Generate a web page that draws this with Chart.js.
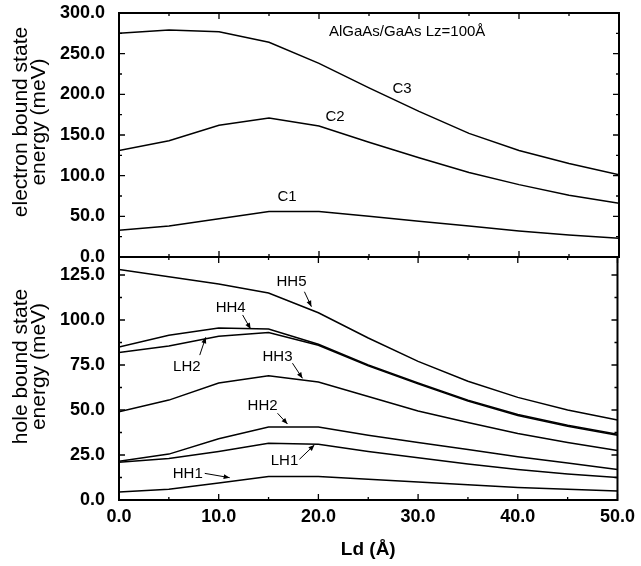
<!DOCTYPE html>
<html>
<head>
<meta charset="utf-8">
<script src="https://cdn.jsdelivr.net/npm/chart.js@4.4.1/dist/chart.umd.min.js"></script>
<style>
  html, body { margin: 0; padding: 0; background: #fff; }
  #wrap { position: relative; width: 641px; height: 566px; overflow: hidden; }
  #wrap canvas { position: absolute; left: 0; }
  #topChart { top: 0; }
  #bottomChart { top: 245px; }
</style>
</head>
<body>
<div id="wrap">
  <canvas id="topChart" width="641" height="290"></canvas>
  <canvas id="bottomChart" width="641" height="321"></canvas>
</div>
<script>
// Ld (Å) sample points
const ld = [0, 5, 10, 15, 20, 25, 30, 35, 40, 45, 50];

// electron bound states (meV)
const c1 = [33, 38, 47, 56, 56, 50, 44, 38, 32, 27, 23];
const c2 = [131, 143, 162, 171, 161, 141, 122, 104, 89, 76, 66];
const c3 = [275, 279, 277, 264, 238, 208, 179, 152, 131, 115, 101];

// hole bound states (meV)
const hh1 = [4.5, 6, 9.5, 13, 13, 11.5, 10, 8.5, 7, 6, 5];
const lh1 = [21, 23, 27, 31.5, 31, 27, 23.5, 20, 17, 14.5, 12.5];
const hh2 = [21.5, 25.5, 34, 40.5, 40.5, 36, 32, 28, 24, 20.5, 17];
const hh3 = [49, 55.5, 65, 69, 65.5, 57.5, 49.5, 43, 37, 32, 27.5];
const lh2 = [82, 85.5, 91, 93, 86, 74.5, 64.5, 55, 47, 41, 36];
const hh4 = [85, 91.5, 95.5, 95, 86.5, 75, 65, 55.5, 47.5, 41.5, 36.5];
const hh5 = [128, 124, 120, 115, 104, 90, 77, 66, 57, 50, 44.5];

// tick values
const xTicks = [0, 10, 20, 30, 40, 50];
const xMinor = [5, 15, 25, 35, 45];
const topYTicks = [0, 50, 100, 150, 200, 250, 300];
const topYMinor = [25, 75, 125, 175, 225, 275];
const botYTicks = [0, 25, 50, 75, 100, 125];
const botYMinor = [12.5, 37.5, 62.5, 87.5, 112.5];

const SANS = "'Liberation Sans', Arial, sans-serif";
const tickFont = { family: SANS, size: 18, weight: 'bold' };

function series(values) {
  return {
    data: ld.map((x, i) => ({ x: x, y: values[i] })),
    borderColor: '#000',
    borderWidth: 1.5,
    pointRadius: 0,
    tension: 0,
    fill: false,
  };
}

// frame, inward ticks, curve labels and y title
const panelDecor = {
  id: 'panelDecor',
  afterDatasetsDraw(chart, args, opts) {
    const { ctx, chartArea: a } = chart;
    const xs = chart.scales.x, ys = chart.scales.y;
    ctx.save();
    ctx.strokeStyle = '#000';
    ctx.fillStyle = '#000';

    // ticks on all four sides, pointing inward
    ctx.lineWidth = 1.3;
    ctx.beginPath();
    const xt = (v, len) => {
      const p = xs.getPixelForValue(v);
      ctx.moveTo(p, a.bottom); ctx.lineTo(p, a.bottom - len);
      ctx.moveTo(p, a.top); ctx.lineTo(p, a.top + len);
    };
    const yt = (v, len) => {
      const p = ys.getPixelForValue(v);
      ctx.moveTo(a.left, p); ctx.lineTo(a.left + len, p);
      ctx.moveTo(a.right, p); ctx.lineTo(a.right - len, p);
    };
    xTicks.forEach(v => xt(v, 6));
    xMinor.forEach(v => xt(v, 3));
    opts.yMajor.forEach(v => yt(v, 6));
    opts.yMinor.forEach(v => yt(v, 3));
    ctx.stroke();

    ctx.lineWidth = 2;
    ctx.strokeRect(a.left, a.top, a.right - a.left, a.bottom - a.top);

    // curve labels with arrows
    ctx.font = '15px ' + SANS;
    ctx.textBaseline = 'middle';
    opts.labels.forEach(l => {
      ctx.textAlign = l.align || 'center';
      ctx.fillText(l.text, xs.getPixelForValue(l.x), ys.getPixelForValue(l.y));
      if (l.arrow) {
        const [x0, y0, x1, y1] = l.arrow;
        const px0 = xs.getPixelForValue(x0), py0 = ys.getPixelForValue(y0);
        const px1 = xs.getPixelForValue(x1), py1 = ys.getPixelForValue(y1);
        ctx.lineWidth = 1;
        ctx.beginPath();
        ctx.moveTo(px0, py0); ctx.lineTo(px1, py1);
        ctx.stroke();
        const ang = Math.atan2(py1 - py0, px1 - px0);
        ctx.beginPath();
        ctx.moveTo(px1, py1);
        ctx.lineTo(px1 - 6 * Math.cos(ang) + 2.5 * Math.sin(ang), py1 - 6 * Math.sin(ang) - 2.5 * Math.cos(ang));
        ctx.lineTo(px1 - 6 * Math.cos(ang) - 2.5 * Math.sin(ang), py1 - 6 * Math.sin(ang) + 2.5 * Math.cos(ang));
        ctx.closePath();
        ctx.fill();
      }
    });

    // two-line y title, rotated
    ctx.font = '21px ' + SANS;
    ctx.textAlign = 'center';
    ctx.textBaseline = 'alphabetic';
    const cy = (a.top + a.bottom) / 2 + opts.titleShift;
    opts.title.forEach((line, i) => {
      ctx.save();
      ctx.translate(27 + i * 18, cy);
      ctx.rotate(-Math.PI / 2);
      ctx.fillText(line, 0, 0);
      ctx.restore();
    });
    ctx.restore();
  }
};

function yScale(max, ticks) {
  return {
    min: 0,
    max: max,
    afterBuildTicks: s => { s.ticks = ticks.map(v => ({ value: v })); },
    afterFit: s => { s.width = 119; s.paddingTop = 0; s.paddingBottom = 0; },
    ticks: { padding: 14, color: '#000', font: tickFont, callback: v => v.toFixed(1) },
    grid: { display: false, drawTicks: false },
    border: { display: false },
  };
}

const topChart = new Chart(document.getElementById('topChart'), {
  type: 'line',
  data: { datasets: [series(c1), series(c2), series(c3)] },
  options: {
    responsive: false,
    animation: false,
    layout: { padding: { top: 13, right: 22, left: 0, bottom: 0 } },
    plugins: {
      legend: { display: false },
      tooltip: { enabled: false },
      panelDecor: {
        yMajor: topYTicks,
        yMinor: topYMinor,
        titleShift: -13,
        title: ['electron bound state', 'energy (meV)'],
        labels: [
          { text: 'AlGaAs/GaAs Lz=100Å', x: 21, y: 277, align: 'left' },
          { text: 'C3', x: 28.3, y: 207 },
          { text: 'C2', x: 21.6, y: 172.5 },
          { text: 'C1', x: 16.8, y: 74 },
        ],
      },
    },
    scales: {
      x: {
        type: 'linear', min: 0, max: 50,
        afterFit: s => { s.height = 33; },
        ticks: { display: false },
        grid: { display: false, drawTicks: false },
        border: { display: false },
      },
      y: yScale(300, topYTicks),
    },
  },
  plugins: [panelDecor],
});

const bottomChart = new Chart(document.getElementById('bottomChart'), {
  type: 'line',
  data: { datasets: [series(hh1), series(lh1), series(hh2), series(hh3), series(lh2), series(hh4), series(hh5)] },
  options: {
    responsive: false,
    animation: false,
    layout: { padding: { top: 12, right: 22, left: 0, bottom: 0 } },
    plugins: {
      legend: { display: false },
      tooltip: { enabled: false },
      panelDecor: {
        yMajor: botYTicks,
        yMinor: botYMinor,
        titleShift: -12,
        title: ['hole bound state', 'energy (meV)'],
        labels: [
          { text: 'HH5', x: 17.3, y: 121, arrow: [18.6, 115.7, 19.3, 107.4] },
          { text: 'HH4', x: 11.2, y: 107, arrow: [12.4, 102.8, 13.2, 95] },
          { text: 'LH2', x: 6.8, y: 73.7, arrow: [8.1, 80.5, 8.7, 90.4] },
          { text: 'HH3', x: 15.9, y: 79.6, arrow: [17.4, 76, 18.4, 67.6] },
          { text: 'HH2', x: 14.4, y: 52.4, arrow: [15.9, 48.2, 16.9, 42.2] },
          { text: 'LH1', x: 16.6, y: 21.8, arrow: [18.1, 22.6, 19.6, 30.6] },
          { text: 'HH1', x: 6.9, y: 14.3, arrow: [8.6, 14.8, 11.1, 12.4] },
        ],
      },
    },
    scales: {
      x: {
        type: 'linear', min: 0, max: 50,
        afterBuildTicks: s => { s.ticks = xTicks.map(v => ({ value: v })); },
        afterFit: s => { s.height = 66; },
        ticks: { padding: 6, color: '#000', font: tickFont, maxRotation: 0, callback: v => v.toFixed(1) },
        grid: { display: false, drawTicks: false },
        border: { display: false },
        title: {
          display: true,
          text: 'Ld (Å)',
          color: '#000',
          font: { family: SANS, size: 19, weight: 'bold' },
          padding: { top: 0, bottom: 5 },
        },
      },
      y: yScale(135, botYTicks),
    },
  },
  plugins: [panelDecor],
});
</script>
</body>
</html>
